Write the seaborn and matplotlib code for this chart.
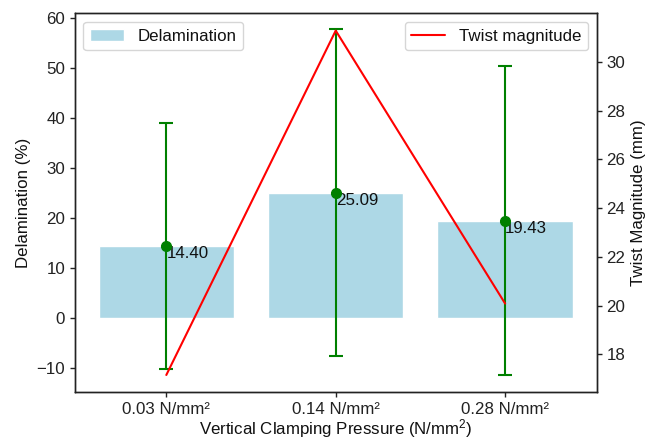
import matplotlib
matplotlib.use("Agg")
import matplotlib.pyplot as plt
import seaborn as sns
import pandas as pd
import numpy as np

categories = ["0.03 N/mm²", "0.14 N/mm²", "0.28 N/mm²"]
delamination = [14.40, 25.09, 19.43]
delamination_err = [24.6, 32.7, 31.0]
twist = [17.15, 31.28, 20.08]

sns.set_theme(style="ticks")
plt.rcParams['font.family'] = ['Liberation Sans', 'DejaVu Sans']
plt.rcParams['mathtext.fontset'] = 'custom'
plt.rcParams['mathtext.rm'] = 'Liberation Sans'
plt.rcParams['mathtext.it'] = 'Liberation Sans:italic'
plt.rcParams['axes.edgecolor'] = '#222222'
plt.rcParams['xtick.color'] = '#222222'
plt.rcParams['ytick.color'] = '#222222'
plt.rcParams['axes.labelcolor'] = '#111111'
plt.rcParams['text.color'] = '#111111'
plt.rcParams['xtick.major.size'] = 3.5
plt.rcParams['ytick.major.size'] = 3.5
plt.rcParams['axes.linewidth'] = 1.0
plt.rcParams['xtick.major.width'] = 1.0
plt.rcParams['ytick.major.width'] = 1.0

FS = 12.2

fig, ax = plt.subplots(figsize=(6.45, 4.44), dpi=100)
fig.subplots_adjust(left=0.116, right=0.925, top=0.970, bottom=0.117)

df = pd.DataFrame({"cat": categories, "delam": delamination})
sns.barplot(data=df, x="cat", y="delam", color="lightblue", saturation=1,
            width=0.8, errorbar=None, ax=ax, label="Delamination")
xpos = np.arange(len(categories))
ax.errorbar(xpos, delamination, yerr=delamination_err, fmt='o', color='green',
            ecolor='green', capsize=5, markersize=7, elinewidth=1.5,
            capthick=1.5, zorder=3)
for i, v in enumerate(delamination):
    ax.text(i, v, f"{v:.2f}", ha='left', va='top', fontsize=FS)

ax.set_xlabel("Vertical Clamping Pressure (N/mm$\\mathregular{^2}$)", fontsize=FS, labelpad=0)
ax.set_ylabel("Delamination (%)", fontsize=FS)
ax.tick_params(labelsize=FS)
ax.set_ylim(-14.9, 61.0)
ax.set_yticks([-10, 0, 10, 20, 30, 40, 50, 60])
ax.legend(loc='upper left', fontsize=FS)

ax2 = ax.twinx()
ax2.plot(xpos, twist, color='red', label='Twist magnitude', linewidth=1.5)
ax2.set_ylabel("Twist Magnitude (mm)", fontsize=FS)
ax2.set_ylim(16.45, 31.99)
ax2.set_yticks([18, 20, 22, 24, 26, 28, 30])
ax2.tick_params(labelsize=FS)
ax2.legend(loc='upper right', fontsize=FS)

fig.savefig("out.png", dpi=100)
